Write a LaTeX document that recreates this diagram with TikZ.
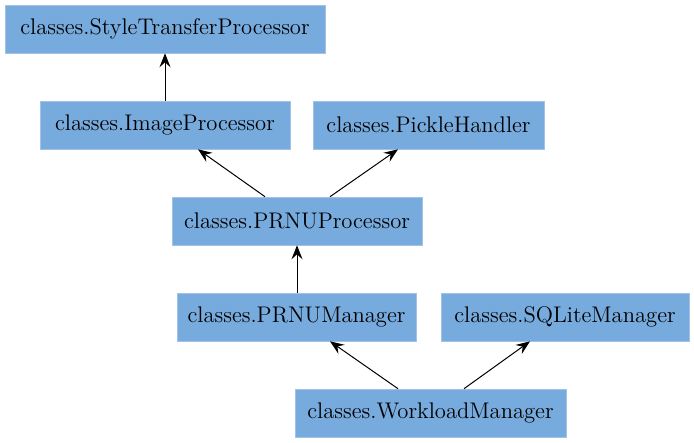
\documentclass[tikz,border=0pt]{standalone}
\usetikzlibrary{arrows.meta}
\definecolor{classblue}{RGB}{119,170,221}
\tikzset{
  cls/.style={fill=classblue, draw=classblue!70!white, line width=0.3pt, minimum height=24pt, inner sep=0pt, font=\fontsize{11.3}{13}\selectfont},
  dep/.style={-{Stealth[length=7pt,width=5.5pt,inset=2.5pt]}, line width=0.5pt}
}
\begin{document}
\begin{tikzpicture}[x=0.5pt, y=-0.5pt]
\useasboundingbox (0,0) rectangle (694,443);
\node[cls, minimum width=160pt](stp) at (165,29){classes.StyleTransferProcessor};
\node[cls, minimum width=125pt](ip) at (165,125){classes.ImageProcessor};
\node[cls, minimum width=115.5pt](ph) at (428.5,125){classes.PickleHandler};
\node[cls, minimum width=125pt](pp) at (297,221){classes.PRNUProcessor};
\node[cls, minimum width=119.5pt](pm) at (296.5,317){classes.PRNUManager};
\node[cls, minimum width=124pt](sq) at (565,317){classes.SQLiteManager};
\node[cls, minimum width=135.5pt](wm) at (430.5,413){classes.WorkloadManager};
% dependencies
\draw[dep](ip.north)--(stp.south);
\draw[dep]([xshift=-16pt]pp.north)--([xshift=16.5pt]ip.south);
\draw[dep]([xshift=16.5pt]pp.north)--([xshift=-15.25pt]ph.south);
\draw[dep](pm.north-|pp.south)--(pp.south);
\draw[dep]([xshift=-16.25pt]wm.north)--([xshift=16.75pt]pm.south);
\draw[dep]([xshift=16.75pt]wm.north)--([xshift=-17.5pt]sq.south);
\end{tikzpicture}
\end{document}
